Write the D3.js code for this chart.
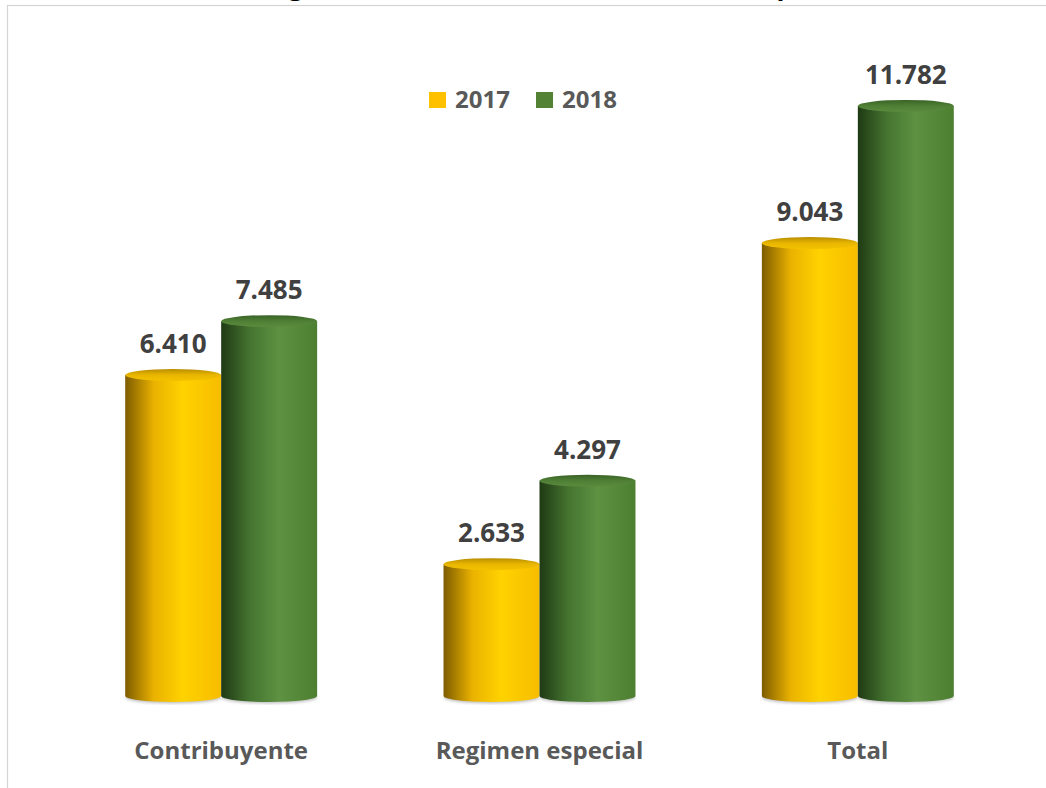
<!DOCTYPE html>
<html>
<head>
<meta charset="utf-8">
<script src="https://cdn.jsdelivr.net/npm/d3@7/dist/d3.min.js"></script>
<style>
  body { margin: 0; background: #fff; }
  svg { display: block; }
</style>
</head>
<body>
<svg id="chart" width="1046" height="788"></svg>
<script>
// data (miles de millones de pesos)
var categories = ["Contribuyente", "Regimen especial", "Total"];
var seriesNames = ["2017", "2018"];
var values2017 = [6.410, 2.633, 9.043];
var values2018 = [7.485, 4.297, 11.782];
var title = "Asignación total en miles de millones de pesos";

function draw_chart()
{
    var svg = d3.select("svg#chart"),
        width = +svg.attr("width"),
        height = +svg.attr("height");

    var font = "'Open Sans', 'Liberation Sans', sans-serif";

    // frame of the chart area (only top and left edges show)
    svg.append("rect")
        .attr("x", 7.5).attr("y", 5.5)
        .attr("width", 1100).attr("height", 900)
        .attr("fill", "#fff")
        .attr("stroke", "#d4d4d4")
        .attr("stroke-width", 1.2);

    // title mostly cut off above the picture, as in the source
    svg.append("text")
        .attr("x", 550).attr("y", -5)
        .attr("text-anchor", "middle")
        .attr("font-family", font)
        .attr("font-weight", "bold")
        .attr("font-size", "26px")
        .attr("fill", "#000")
        .text(title);

    var series = seriesNames.map(function (name, i) {
        return {name: name, values: i === 0 ? values2017 : values2018};
    });

    // scales
    var x0 = d3.scaleBand()
        .domain(categories)
        .range([62, 1017])
        .paddingInner(0.397)
        .paddingOuter(0.1985);
    var x1 = d3.scaleBand()
        .domain(seriesNames)
        .range([0, x0.bandwidth()]);
    var y = d3.scaleLinear()
        .domain([0, 12])
        .range([696, 95]);

    // gradients for the cylinders
    var defs = svg.append("defs");
    var sideStops = {
        "2017": [[0, "#7d5c00"], [0.3, "#eab200"], [0.6, "#ffd200"], [1, "#f7bd00"]],
        "2018": [[0, "#1f3a14"], [0.3, "#457430"], [0.6, "#5e9142"], [1, "#4d7f31"]]
    };
    var topStops = {
        "2017": [[0, "#b88c00"], [0.5, "#e9b600"], [1, "#f3c200"]],
        "2018": [[0, "#3a6327"], [0.5, "#4f7f35"], [1, "#5a8b3d"]]
    };
    seriesNames.forEach(function (s) {
        var g = defs.append("linearGradient")
            .attr("id", "side" + s)
            .attr("x1", "0%").attr("x2", "100%").attr("y1", "0%").attr("y2", "0%");
        sideStops[s].forEach(function (st) {
            g.append("stop").attr("offset", st[0]).attr("stop-color", st[1]);
        });
        var t = defs.append("linearGradient")
            .attr("id", "top" + s)
            .attr("x1", "0%").attr("x2", "0%").attr("y1", "0%").attr("y2", "100%");
        topStops[s].forEach(function (st) {
            t.append("stop").attr("offset", st[0]).attr("stop-color", st[1]);
        });
    });
    defs.append("filter")
        .attr("id", "soft")
        .append("feGaussianBlur")
        .attr("stdDeviation", 1.5);

    var ry = 6;
    var bw = x1.bandwidth();

    var groups = svg.append("g")
        .selectAll("g")
        .data(categories)
        .enter()
        .append("g")
        .attr("transform", function (d) { return "translate(" + x0(d) + ",0)"; });

    var bars = groups.selectAll("g.bar")
        .data(function (d, i) {
            return series.map(function (s) { return {cat: d, key: s.name, val: s.values[i]}; });
        })
        .enter()
        .append("g")
        .attr("class", "bar");

    // faint shadow under the base
    bars.append("ellipse")
        .attr("cx", function (d) { return x1(d.key) + bw / 2; })
        .attr("cy", y(0) + 1.5)
        .attr("rx", bw / 2)
        .attr("ry", ry)
        .attr("fill", "#bfbfbf")
        .attr("filter", "url(#soft)");

    // body of each cylinder
    bars.append("path")
        .attr("fill", function (d) { return "url(#side" + d.key + ")"; })
        .attr("d", function (d) {
            var l = x1(d.key), r = l + bw, top = y(d.val), bot = y(0);
            return "M" + l + "," + top + "L" + l + "," + bot +
                "A" + (bw / 2) + "," + ry + " 0 0 0 " + r + "," + bot +
                "L" + r + "," + top + "Z";
        });

    // top face
    bars.append("ellipse")
        .attr("cx", function (d) { return x1(d.key) + bw / 2; })
        .attr("cy", function (d) { return y(d.val); })
        .attr("rx", bw / 2)
        .attr("ry", ry)
        .attr("fill", function (d) { return "url(#top" + d.key + ")"; });

    // value labels
    bars.append("text")
        .attr("x", function (d) { return x1(d.key) + bw / 2; })
        .attr("y", function (d) { return y(d.val) - ry - 16; })
        .attr("text-anchor", "middle")
        .attr("font-family", font)
        .attr("font-weight", "bold")
        .attr("font-size", "26px")
        .attr("fill", "#404040")
        .text(function (d) { return d3.format(".3f")(d.val); });

    // category labels
    svg.append("g")
        .selectAll("text")
        .data(categories)
        .enter()
        .append("text")
        .attr("x", function (d) { return x0(d) + x0.bandwidth() / 2; })
        .attr("y", 759)
        .attr("text-anchor", "middle")
        .attr("font-family", font)
        .attr("font-weight", "bold")
        .attr("font-size", "24px")
        .attr("fill", "#595959")
        .text(function (d) { return d; });

    // legend
    var legendColor = {"2017": "#ffc000", "2018": "#548235"};
    var legend = svg.append("g")
        .selectAll("g")
        .data(seriesNames)
        .enter()
        .append("g")
        .attr("transform", function (d, i) { return "translate(" + (429 + i * 107) + ",92)"; });
    legend.append("rect")
        .attr("width", 17).attr("height", 16)
        .attr("fill", function (d) { return legendColor[d]; });
    legend.append("text")
        .attr("x", 26).attr("y", 16)
        .attr("font-family", font)
        .attr("font-weight", "bold")
        .attr("font-size", "24px")
        .attr("fill", "#595959")
        .text(function (d) { return d; });
}

draw_chart();
</script>
</body>
</html>
